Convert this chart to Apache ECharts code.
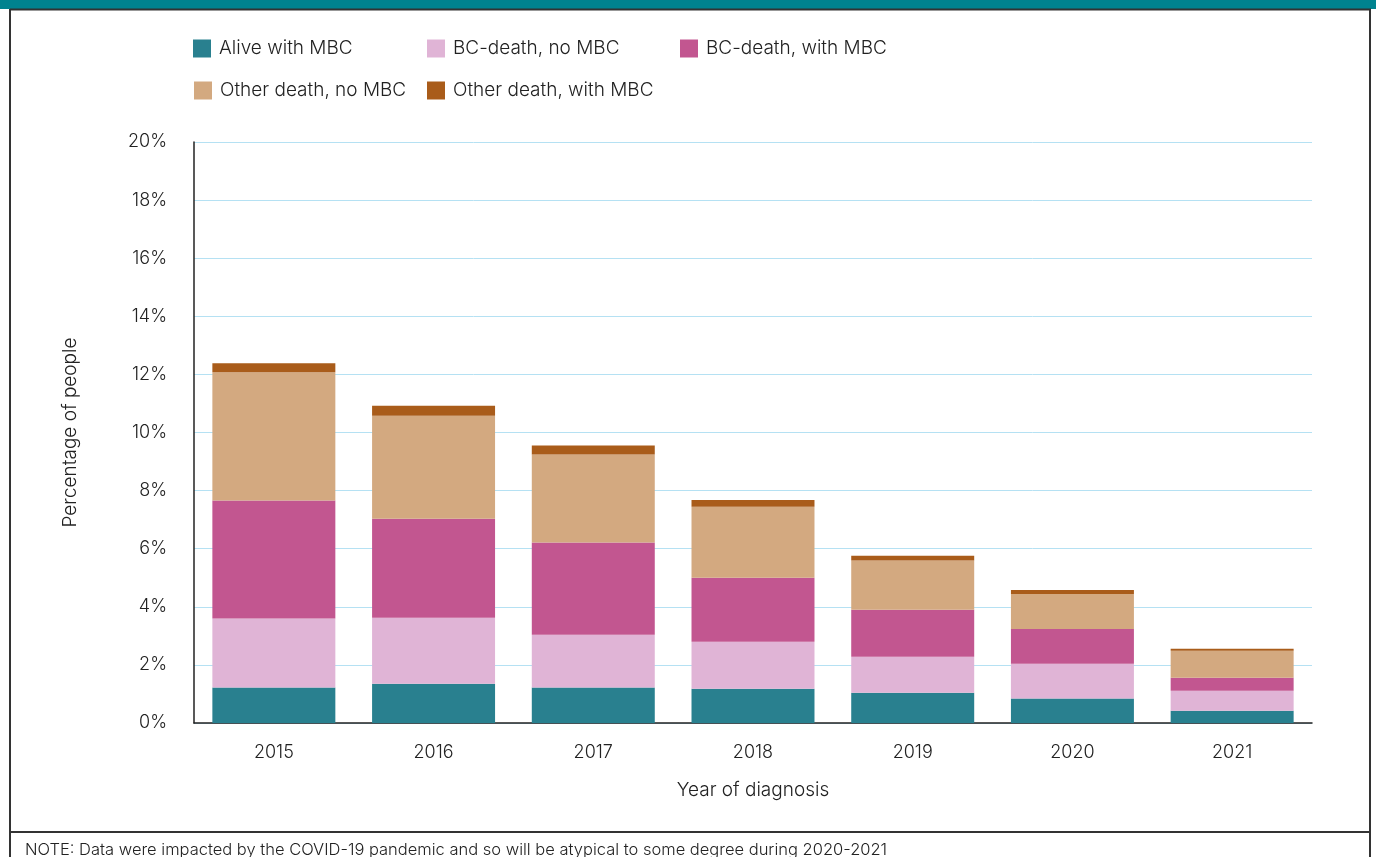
<!DOCTYPE html>
<html>
<head>
<meta charset="utf-8">
<title>MBC by year of diagnosis</title>
<script src="https://cdn.jsdelivr.net/npm/echarts@6/dist/echarts.min.js"></script>
<style>
  html, body { margin: 0; padding: 0; background: #fff; }
  #chart { width: 1376px; height: 857px; }
</style>
</head>
<body>
<div id="chart"></div>
<script>
// values, in percent of people
var years = ["2015", "2016", "2017", "2018", "2019", "2020", "2021"];
var aliveWithMbc = [1.22, 1.35, 1.22, 1.18, 1.04, 0.84, 0.42];
var bcDeathNoMbc = [2.38, 2.27, 1.82, 1.62, 1.24, 1.20, 0.69];
var bcDeathWithMbc = [4.06, 3.41, 3.17, 2.20, 1.62, 1.20, 0.45];
var otherDeathNoMbc = [4.41, 3.55, 3.03, 2.44, 1.69, 1.20, 0.93];
var otherDeathWithMbc = [0.31, 0.34, 0.31, 0.24, 0.17, 0.14, 0.07];

var seriesNames = ["Alive with MBC", "BC-death, no MBC", "BC-death, with MBC",
                   "Other death, no MBC", "Other death, with MBC"];
var seriesColors = ["#29808f", "#e0b4d6", "#c25690", "#d3a980", "#a95c1a"];
var seriesData = [aliveWithMbc, bcDeathNoMbc, bcDeathWithMbc, otherDeathNoMbc, otherDeathWithMbc];
var yTicks = [0, 20, 2];

var FONT = "Inter, Roboto, sans-serif";
var TXT = { fontFamily: FONT, fontSize: 18, fontWeight: 300, color: "#222" };
var BIG = { fontFamily: FONT, fontSize: 19, fontWeight: 300, color: "#222" };

// legend slots, two rows like the original
var legendSlots = [
    { left: 193, top: 39 },
    { left: 427, top: 39 },
    { left: 680, top: 39 },
    { left: 194, top: 81 },
    { left: 427, top: 81 }
];

var legends = [];
for (var i = 0; i < seriesNames.length; i++) {
    legends.push({
        data: [seriesNames[i]],
        left: legendSlots[i].left,
        top: legendSlots[i].top,
        padding: 0,
        icon: "rect",
        itemWidth: 18,
        itemHeight: 18,
        itemGap: 0,
        textStyle: Object.assign({ padding: [6, 0, 0, 3] }, BIG),
        selectedMode: false
    });
}

var series = [];
for (var j = 0; j < seriesNames.length; j++) {
    series.push({
        name: seriesNames[j],
        type: "bar",
        stack: "total",
        barCategoryGap: "23%",
        itemStyle: { color: seriesColors[j] },
        data: seriesData[j]
    });
}

var chart = echarts.init(document.getElementById("chart"));
chart.setOption({
    animation: false,
    legend: legends,
    grid: { left: 194, right: 64, top: 142, bottom: 134 },
    xAxis: {
        type: "category",
        data: years,
        name: "Year of diagnosis",
        nameLocation: "middle",
        nameGap: 58,
        nameTextStyle: BIG,
        axisLine: { lineStyle: { color: "#222", width: 1.5 } },
        axisTick: { show: false },
        axisLabel: Object.assign({ margin: 21 }, TXT)
    },
    yAxis: {
        type: "value",
        min: yTicks[0],
        max: yTicks[1],
        interval: yTicks[2],
        name: "Percentage of people",
        nameLocation: "middle",
        nameGap: 114,
        nameTextStyle: BIG,
        axisLine: { show: true, lineStyle: { color: "#222", width: 1.5 } },
        axisTick: { show: false },
        splitLine: { lineStyle: { color: "#b5e1f3", width: 1 } },
        axisLabel: Object.assign({ margin: 27, formatter: "{value}%" }, TXT)
    },
    graphic: [
        { type: "rect", shape: { x: 0, y: 0, width: 1376, height: 9 }, style: { fill: "#00838f" } },
        { type: "line", shape: { x1: 10, y1: 9.5, x2: 1371, y2: 9.5 }, style: { stroke: "#333", lineWidth: 2 } },
        { type: "line", shape: { x1: 10, y1: 9, x2: 10, y2: 857 }, style: { stroke: "#333", lineWidth: 2 } },
        { type: "line", shape: { x1: 1370, y1: 9, x2: 1370, y2: 857 }, style: { stroke: "#333", lineWidth: 2 } },
        { type: "line", shape: { x1: 10, y1: 832, x2: 1370, y2: 832 }, style: { stroke: "#333", lineWidth: 2 } },
        {
            type: "text", left: 25, top: 842,
            style: {
                text: "NOTE: Data were impacted by the COVID-19 pandemic and so will be atypical to some degree during 2020-2021",
                font: "300 16.5px " + FONT, fill: "#222"
            }
        }
    ],
    series: series
});
</script>
</body>
</html>
